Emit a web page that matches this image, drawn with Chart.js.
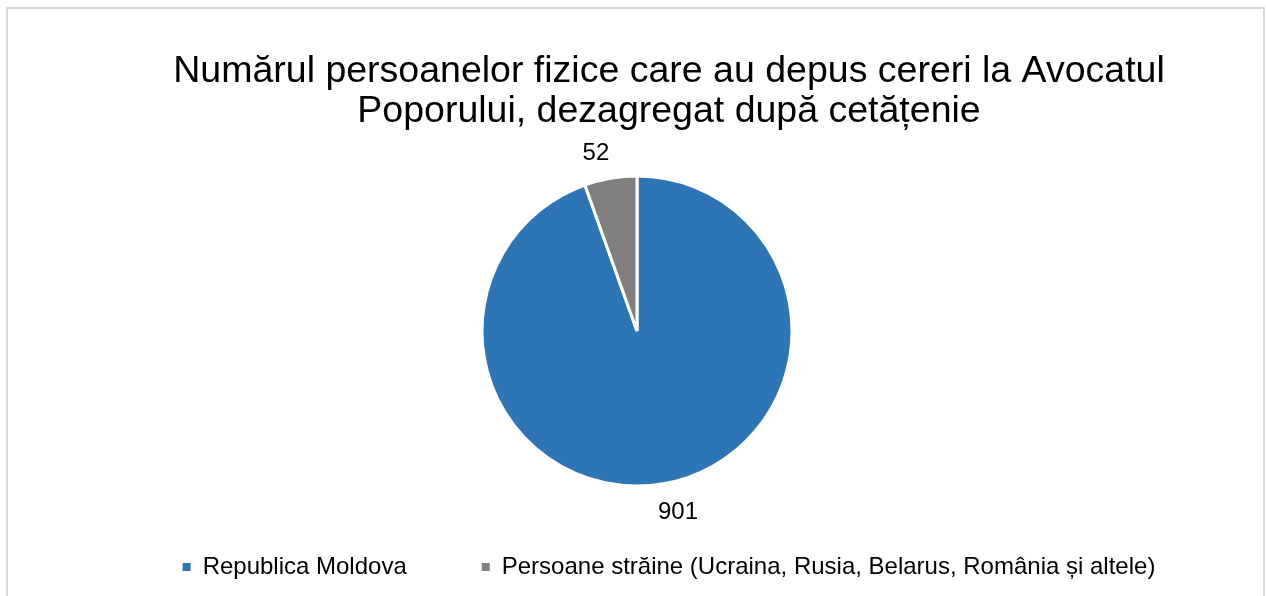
<!DOCTYPE html>
<html>
<head>
<meta charset="utf-8">
<script src="https://cdn.jsdelivr.net/npm/chart.js@4"></script>
<style>
    html, body { margin: 0; padding: 0; background: #fff; }
    #frame {
        position: absolute; left: 6px; top: 7px;
        width: 1255px; height: 620px;
        border: 2px solid #d9d9d9;
    }
    #wrap { position: absolute; left: 0; top: 0; width: 1266px; height: 596px; }
</style>
</head>
<body>
<div id="frame"></div>
<div id="wrap"><canvas id="pieChart"></canvas></div>
<script>
// Data
const categories = ["Republica Moldova", "Persoane străine (Ucraina, Rusia, Belarus, România și altele)"];
const values = [901, 52];
const colors = ["#2e75b6", "#7f7f7f"];
const titleLines = ["Numărul persoanelor fizice care au depus cereri la Avocatul", "Poporului, dezagregat după cetățenie"];

const FONT = "'Liberation Sans', Arial, sans-serif";

// move the pie left of the title/legend center (Excel layout)
const shiftPie = {
    id: "shiftPie",
    afterLayout(chart) {
        chart.chartArea.left -= 64;
        chart.chartArea.width += 64;
    }
};

// value labels outside the slices
const outsideLabels = {
    id: "outsideLabels",
    afterDatasetsDraw(chart) {
        const ctx = chart.ctx;
        const meta = chart.getDatasetMeta(0);
        ctx.save();
        ctx.font = "24px " + FONT;
        ctx.fillStyle = "#000";
        ctx.textAlign = "center";
        ctx.textBaseline = "middle";
        meta.data.forEach((arc, i) => {
            const p = arc.getProps(["x", "y", "startAngle", "endAngle", "outerRadius"], true);
            const mid = (p.startAngle + p.endAngle) / 2;
            const dx = Math.cos(mid), dy = Math.sin(mid);
            const r = p.outerRadius + 27;
            const x = p.x + dx * r + Math.sign(dx) * 10;
            const y = p.y + dy * r + 2;
            ctx.fillText(String(values[i]), x, y);
        });
        ctx.restore();
    }
};

new Chart(document.getElementById("pieChart"), {
    type: "pie",
    data: {
        labels: categories,
        datasets: [{
            data: values,
            backgroundColor: colors,
            borderColor: "#fff",
            borderWidth: 3,
            radius: 155
        }]
    },
    options: {
        responsive: true,
        maintainAspectRatio: false,
        animation: false,
        layout: { padding: { left: 72, right: 0, top: 0, bottom: 7 } },
        plugins: {
            title: {
                display: true,
                text: titleLines,
                color: "#000",
                font: { family: FONT, size: 37.5, weight: "normal", lineHeight: 40 / 37.5 },
                padding: { top: 52, bottom: 50 }
            },
            legend: {
                position: "bottom",
                labels: {
                    color: "#000",
                    font: { family: FONT, size: 24 },
                    boxWidth: 8,
                    boxHeight: 8,
                    padding: 75,
                    generateLabels(chart) {
                        const items = Chart.overrides.pie.plugins.legend.labels.generateLabels(chart);
                        items.forEach(it => { it.lineWidth = 0; });
                        return items;
                    }
                }
            },
            tooltip: { enabled: false }
        }
    },
    plugins: [shiftPie, outsideLabels]
});
</script>
</body>
</html>
